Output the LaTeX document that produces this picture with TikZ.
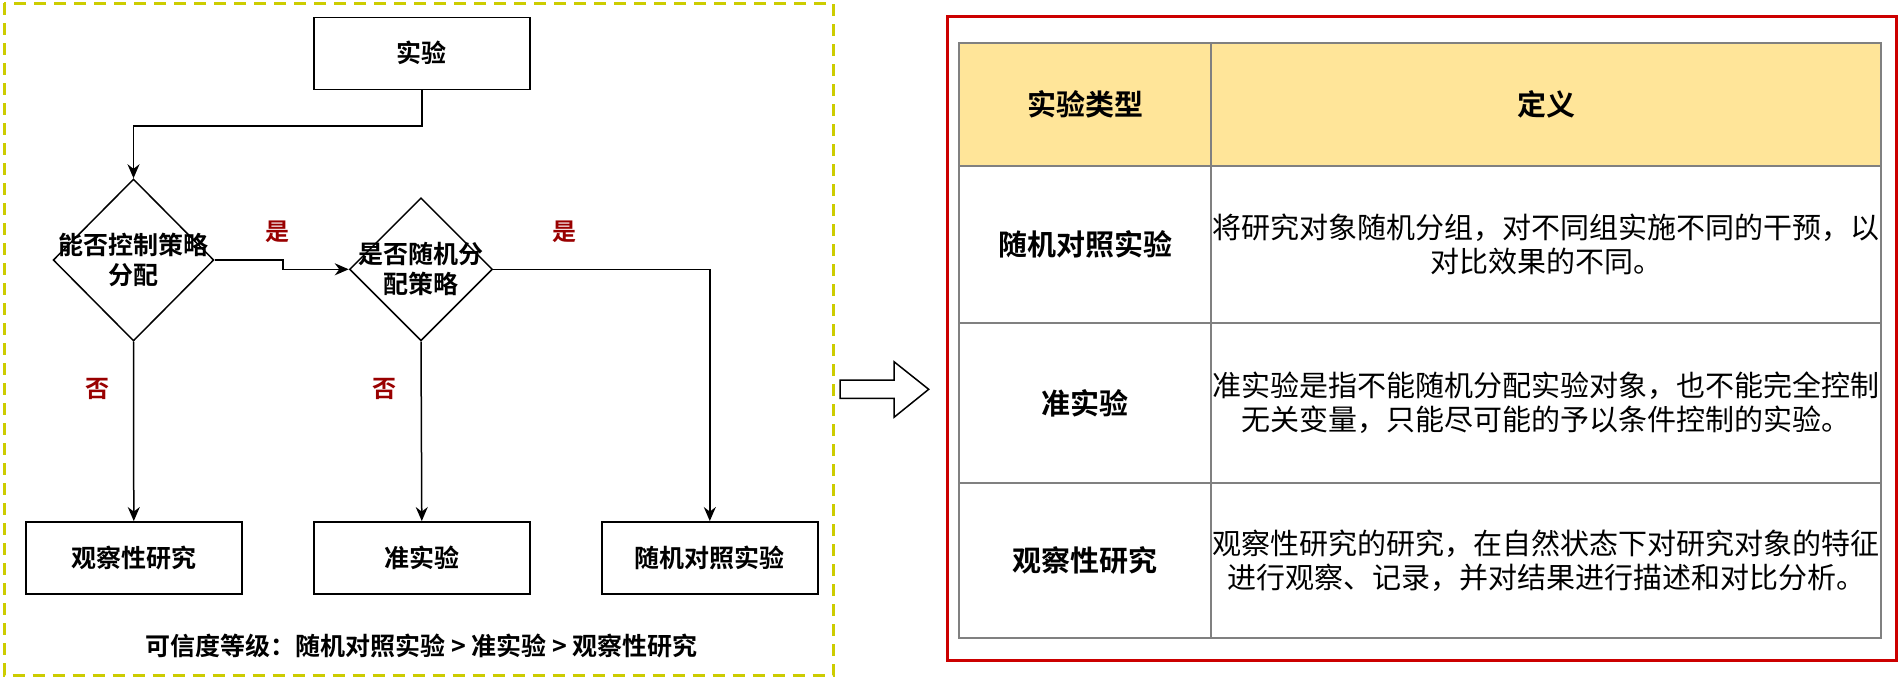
\documentclass[tikz,border=0pt]{standalone}
\usepackage{fontspec}
\setmainfont{Noto Sans CJK SC}[BoldFont={Noto Sans CJK SC Bold}]
\usepackage{xcolor}
\usepackage{tikz}
\usetikzlibrary{positioning,shapes.geometric,arrows.meta,calc}

\definecolor{labelred}{RGB}{153,0,0}
\definecolor{frameyellow}{RGB}{204,204,0}
\definecolor{framered}{RGB}{204,0,0}
\definecolor{headfill}{RGB}{255,229,153}
\definecolor{gridgrey}{RGB}{128,128,128}

\begin{document}
\begin{tikzpicture}[x=0.5pt, y=-0.5pt,
    box/.style={rectangle, draw, line width=0.75pt, minimum width=108pt, minimum height=36pt, font=\bfseries\fontsize{12.5}{15}\selectfont},
    decision/.style={diamond, draw, line width=0.75pt, inner sep=0pt},
    qtext/.style={align=center, font=\bfseries\fontsize{12.5}{15}\selectfont},
    answer/.style={text=labelred, font=\bfseries\fontsize{12}{14}\selectfont},
    flow/.style={line width=0.75pt, -{Stealth[length=7pt, width=6pt]}},
    cell/.style={rectangle, draw=gridgrey, line width=1pt, anchor=north west, inner sep=0pt},
    kind/.style={font=\bfseries\fontsize{14.5}{17}\selectfont},
    defn/.style={align=center, font=\fontsize{14.5}{17}\selectfont},
]
\useasboundingbox (0,0) rectangle (1900,680);

% Frames
\draw[frameyellow, line width=1.5pt, dash pattern=on 6pt off 4pt] (4.4,3.3) rectangle (833.7,675);
\draw[framered, line width=1.5pt] (947.5,16.7) rectangle (1896.5,660.7);

% Flow chart
\node[box] (exp) at (421.8,53.3) {实验};
\node[decision, minimum width=80.35pt, minimum height=81pt] (q1) at (133.5,260) {};
\node[qtext] at (q1.center) {能否控制策略\\分配};
\node[decision, minimum width=71.5pt, minimum height=71.5pt] (q2) at (421,269.3) {};
\node[qtext] at (q2.center) {是否随机分\\配策略};

\node[box] (obs) at (133.8,557.8) {观察性研究};
\node[box] (qex) at (421.8,557.8) {准实验};
\node[box] (rct) at (709.8,557.8) {随机对照实验};

% Connections
\draw[flow] (exp.south) -- ++(0,36) -| (q1.north);
\draw[flow] (q1.east) -- ++(68.6,0) |- (q2.west);
\draw[flow] (q2.east) -| (rct.north);
\draw[flow] (q1.south) -- (obs.north);
\draw[flow] (q2.south) -- (qex.north);

\node[answer] (yes1) at (277,232) {是};
\node[answer] (yes2) at (564,232) {是};
\node[answer] (no1) at (97,389) {否};
\node[answer] (no2) at (384,389) {否};

\node[qtext] (rank) at (421.9,646) {可信度等级：随机对照实验 > 准实验 > 观察性研究};

% Hollow arrow
\draw[line width=0.75pt, fill=white] (840,380) -- (894,380) -- (894,361.7) -- (928.7,389.3)
    -- (894,417.3) -- (894,398.3) -- (840,398.3) -- cycle;

% Table
\node[cell, fill=headfill, minimum width=125.8pt, minimum height=61.35pt, kind] (hda) at (958.4,42.3) {实验类型};
\node[cell, fill=headfill, minimum width=335pt, minimum height=61.35pt, kind] (hdb) at (1210,42.3) {定义};

\node[cell, minimum width=125.8pt, minimum height=78.35pt, kind] (r1a) at (958.4,165) {随机对照实验};
\node[cell, minimum width=335pt, minimum height=78.35pt, defn] (r1b) at (1210,165)
    {将研究对象随机分组，对不同组实施不同的干预，以\\对比效果的不同。};

\node[cell, minimum width=125.8pt, minimum height=80.3pt, kind] (r2a) at (958.4,321.7) {准实验};
\node[cell, minimum width=335pt, minimum height=80.3pt, defn] (r2b) at (1210,321.7)
    {准实验是指不能随机分配实验对象，也不能完全控制\\无关变量，只能尽可能的予以条件控制的实验。};

\node[cell, minimum width=125.8pt, minimum height=77.2pt, kind] (r3a) at (958.4,482.3) {观察性研究};
\node[cell, minimum width=335pt, minimum height=77.2pt, defn] (r3b) at (1210,482.3)
    {观察性研究的研究，在自然状态下对研究对象的特征\\进行观察、记录，并对结果进行描述和对比分析。};

\end{tikzpicture}
\end{document}
